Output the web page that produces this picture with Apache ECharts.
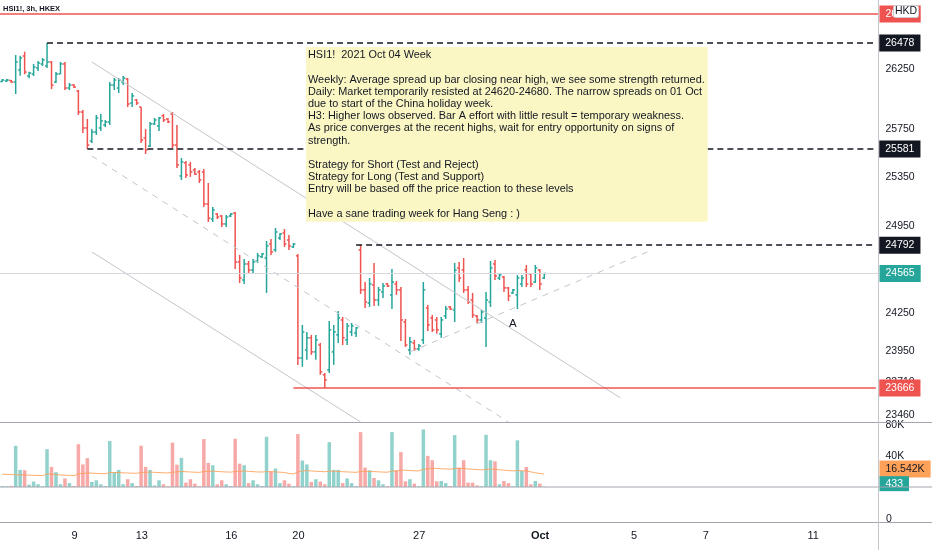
<!DOCTYPE html>
<html>
<head>
<meta charset="utf-8">
<title>HSI1! 3h</title>
<script src="https://cdn.jsdelivr.net/npm/echarts@6/dist/echarts.min.js"></script>
<style>
html,body{margin:0;padding:0;background:#fff;}
#chart{width:932px;height:550px;}
</style>
</head>
<body>
<div id="chart"></div>
<script>
// HSI1! 3h bars (bar index = position on the time axis)
var barOpen = [
  26148,26153,26157,26144,26247,26366,26195,26212,26264,26298,
  26281,26315,26144,26212,26298,26093,26118,26068,25890,25756,
  25647,25722,25756,25781,25806,26118,26093,26144,26170,25966,
  25992,25932,25672,25605,25790,25773,25857,25831,25873,25613,
  25357,25465,25448,25406,25390,25390,25127,25004,25045,25029,
  24964,25029,25053,24657,24513,24641,24593,24665,24698,24689,
  24802,24754,24850,24891,24834,24778,24706,23899,23961,24056,
  23946,24000,23768,23806,23946,24079,24196,24040,24102,24094,
  24754,24434,24330,24473,24354,24418,24481,24394,24481,24434,
  24180,23961,24016,23969,24040,24291,24212,24196,24087,24228,
  24299,24275,24609,24593,24434,24354,24228,24196,24212,24338,
  24641,24529,24537,24450,24410,24394,24481,24593,24561,24497,
  24593,24529
];
var barHigh = [
  26170,26170,26161,26375,26369,26403,26232,26298,26323,26349,
  26478,26323,26229,26315,26315,26136,26127,26076,25907,25831,
  25747,25865,25873,25823,26144,26178,26178,26195,26178,26051,
  26000,25932,25747,25806,25840,25848,25873,25840,25890,25781,
  25506,25481,25473,25423,25406,25415,25299,25103,25053,25037,
  25037,25053,25062,24714,24681,24665,24681,24730,24730,24826,
  24842,24931,24891,24923,24875,24810,24722,24157,24102,24079,
  24079,24016,23783,24188,24157,24267,24220,24173,24173,24141,
  24792,24497,24529,24649,24457,24489,24489,24601,24505,24457,
  24204,24063,24040,24008,24497,24315,24236,24220,24220,24307,
  24307,24649,24657,24689,24465,24410,24236,24275,24418,24665,
  24673,24569,24545,24457,24442,24553,24553,24633,24569,24633,
  24601,24569
];
var barLow = [
  26144,26144,26136,26042,26198,26210,26175,26195,26238,26281,
  26264,26084,26136,26212,26076,26076,26093,25865,25714,25581,
  25630,25697,25731,25764,25781,26076,26051,26118,25932,25932,
  25949,25630,25539,25597,25781,25731,25806,25798,25588,25423,
  25324,25340,25349,25365,25299,25103,24980,24980,25004,24939,
  24939,25020,24601,24489,24481,24569,24569,24649,24689,24410,
  24714,24738,24834,24778,24754,24770,23845,23830,23884,23923,
  23884,23768,23666,23783,23845,24016,24000,24000,24071,24063,
  24402,24291,24299,24307,24307,24370,24457,24283,24394,24032,
  23985,23923,23954,23954,24008,24110,24102,24087,24056,24204,
  24275,24180,24497,24410,24322,24212,24173,24173,23985,24299,
  24513,24513,24418,24346,24402,24283,24457,24457,24457,24489,
  24434,24521
];
var barClose = [
  26161,26161,26144,26315,26349,26229,26221,26272,26306,26332,
  26315,26118,26212,26298,26093,26118,26101,25890,25756,25613,
  25722,25840,25815,25806,26118,26161,26161,26178,25958,26026,
  25966,25655,25572,25790,25823,25840,25823,25806,25613,25448,
  25473,25365,25390,25373,25324,25127,25012,25078,25020,24964,
  25020,25045,24657,24529,24641,24593,24657,24706,24722,24786,
  24738,24899,24883,24802,24786,24802,23899,24102,24056,23946,
  24040,23791,23729,24118,24102,24212,24056,24149,24149,24134,
  24434,24338,24481,24354,24434,24465,24465,24497,24434,24196,
  24000,24024,23969,23993,24434,24157,24118,24118,24196,24283,
  24283,24593,24529,24434,24338,24236,24196,24259,24354,24609,
  24545,24553,24450,24386,24434,24529,24529,24481,24481,24609,
  24481,24565
];
var volume = [
  1200,900,1500,
  52900,22000,21500,3000,7000,3500,1000,
  48600,25800,19000,3500,11000,5000,1200,
  55000,29000,37000,6500,8600,3500,1100,
  59000,19000,22000,3500,10000,5000,1300,
  53000,25800,22000,2000,8600,3500,900,
  57000,28700,37400,5600,10000,4300,1000,
  61500,31000,28000,3500,8600,3500,1200,
  62000,30000,28000,5000,8600,3500,1100,
  64500,20000,23700,5000,8600,4300,1000,
  68000,34000,29000,6500,10000,7000,3500,
  57600,22000,22000,5000,11000,5000,1200,
  70500,25000,21500,11600,8600,3500,1000,
  70500,21500,44800,7300,10000,4300,1100,
  74000,40000,34400,7300,7700,5000,1200,
  66700,25000,34400,5600,5600,2000,900,
  67000,34400,33000,3500,7700,5000,1000,
  60000,20600,25800,3500,7700,4300,433
];
var volumeMA = [
  16400,16200,16000,15800,15600,15400,15200,
  15000,14800,14600,16800,16600,16000,15500,
  15200,14900,14600,16800,17400,18200,17800,
  17500,17200,17000,18800,18400,18600,18200,
  18000,17800,17600,18600,18900,19200,18800,
  18500,18300,18100,19000,19400,20000,19600,
  19300,19000,18800,19800,20100,20400,20000,
  19600,19300,19100,19900,20200,20500,20100,
  19700,19400,19200,19800,19600,19400,19000,
  18600,17400,16800,19500,20600,21000,20600,
  20200,19900,19600,20400,20200,20000,19600,
  19400,19100,18800,20000,20200,20000,19700,
  19500,19200,19000,20600,20500,21800,21400,
  21100,20800,20600,22600,23400,24200,23800,
  23500,23200,22900,23800,23600,23800,23200,
  22800,22400,22000,22600,23000,22800,22100,
  21600,21100,20600,21200,20900,20500,19400,
  18300,17400,16542
];

// time axis: bar slots incl. the empty future part
var slotCount = 196;
var tickBars = [16, 31, 51, 66, 93, 120, 141, 157, 181];
var tickLabels = ['9', '13', '16', '20', '27', 'Oct', '5', '7', '11'];

// price scale labels and drawn levels
var priceTicks = [26250, 25750, 25350, 24950, 24250, 23950, 23710, 23460];
var levelStart = [10, 19, 79];
var levelPrice = [26478, 25581, 24792];
var supportStart = 65, supportPrice = 23666;
var alertPrice = 26729;
var lastPrice = 24565;
var volTicks = [80000, 40000];
var volTickLabels = ['80K', '40K'];
var lastVolMA = 16542, lastVol = 433;

// channel / trend lines: [[bar, price], [bar, price]]
var trendLines = [
  [[20, 26315], [138, 23590]],
  [[20, 24738], [80, 23406]],
  [[20, 25522], [113, 23406]],
  [[91, 23946], [144, 24738]]
];
var trendDashed = [false, false, true, true];
var markA = [114, 24165];

var UP = '#26a69a', DOWN = '#ef5350';
var FONT = 'Liberation Sans';
var NONE = 'rgba(0,0,0,0)';
var PRICE_MIN = 23406, PRICE_MAX = 26851;

var cats = [];
for (var i = 0; i < slotCount; i++) cats.push(String(i));
var labelAt = {};
tickBars.forEach(function (b, k) { labelAt[b] = tickLabels[k]; });

var ohlc = barOpen.map(function (o, i) { return [i, o, barHigh[i], barLow[i], barClose[i]]; });
var volData = volume.map(function (v, i) {
  return {value: v, itemStyle: {color: barClose[i] >= barOpen[i] ? 'rgba(38,166,154,0.5)' : 'rgba(239,83,80,0.5)'}};
});

function renderOHLC(params, api) {
  var x = api.value(0);
  var o = api.coord([x, api.value(1)]);
  var h = api.coord([x, api.value(2)]);
  var l = api.coord([x, api.value(3)]);
  var c = api.coord([x, api.value(4)]);
  var half = api.size([1, 0])[0] * 0.45;
  var col = api.value(4) >= api.value(1) ? UP : DOWN;
  var st = {stroke: col, lineWidth: 1.5};
  return {type: 'group', children: [
    {type: 'line', shape: {x1: h[0], y1: h[1], x2: l[0], y2: l[1]}, style: st},
    {type: 'line', shape: {x1: o[0] - half, y1: o[1], x2: o[0], y2: o[1]}, style: st},
    {type: 'line', shape: {x1: c[0], y1: c[1], x2: c[0] + half, y2: c[1]}, style: st}
  ]};
}

function boxLabel(bg, fg, dist) {
  return {show: true, position: 'end', distance: dist, formatter: '{b}', color: fg, backgroundColor: bg,
    padding: [3, 6, 3, 6], fontSize: 10.5, fontFamily: FONT, opacity: 1};
}
function plainLabel(dist) {
  return {show: true, position: 'end', distance: dist, formatter: '{b}', color: '#131722',
    padding: [3, 6, 3, 6], fontSize: 10.5, fontFamily: FONT, opacity: 1};
}
var hiddenLine = {color: NONE, width: 1, type: 'solid', opacity: 1};

var priceMarks = [];
priceTicks.forEach(function (v) {
  priceMarks.push({yAxis: v, name: String(v), lineStyle: hiddenLine, label: plainLabel(1.5)});
});
trendLines.forEach(function (t, k) {
  priceMarks.push([
    {coord: t[0], lineStyle: {color: '#c3c5ca', width: 1, type: trendDashed[k] ? [6, 6] : 'solid'}, label: {show: false}},
    {coord: t[1]}
  ]);
});
priceMarks.push({yAxis: lastPrice, name: String(lastPrice), lineStyle: {color: '#d6d8dd', width: 1, type: 'solid'}, label: boxLabel(UP, '#fff', 1.5)});
priceMarks.push({yAxis: alertPrice, name: String(alertPrice), lineStyle: {color: DOWN, width: 1.5, type: 'solid'}, label: boxLabel(DOWN, '#fff', 1.5)});
levelPrice.forEach(function (p, k) {
  priceMarks.push([
    {coord: [levelStart[k], p], name: String(p), lineStyle: {color: '#131722', width: 1.5, type: [6, 4]}, label: boxLabel('#131722', '#fff', 3.5)},
    {coord: [slotCount - 1, p]}
  ]);
});
priceMarks.push([
  {coord: [supportStart, supportPrice], name: String(supportPrice), lineStyle: {color: DOWN, width: 1.5, type: 'solid'}, label: boxLabel(DOWN, '#fff', 3.5)},
  {coord: [slotCount - 1, supportPrice]}
]);

var volMarks = [];
volTicks.forEach(function (v, k) {
  volMarks.push({yAxis: v, name: volTickLabels[k], lineStyle: hiddenLine, label: plainLabel(1.5)});
});
volMarks.push({yAxis: lastVolMA, name: (lastVolMA / 1000).toFixed(3) + 'K', lineStyle: hiddenLine,
  label: Object.assign(boxLabel('#ffa159', '#131722', 1.5), {offset: [0, -5]})});
volMarks.push({yAxis: lastVol, name: String(lastVol), lineStyle: hiddenLine,
  label: Object.assign(boxLabel(UP, '#fff', 1.5), {offset: [0, -3], padding: [2, 6, 2, 6]})});

var note = [
  'HSI1!  2021 Oct 04 Week',
  '',
  'Weekly: Average spread up bar closing near high, we see some strength returned.',
  'Daily: Market temporarily resisted at 24620-24680. The narrow spreads on 01 Oct',
  'due to start of the China holiday week.',
  'H3: Higher lows observed. Bar A effort with little result = temporary weakness.',
  'As price converges at the recent highs, wait for entry opportunity on signs of',
  'strength.',
  '',
  'Strategy for Short (Test and Reject)',
  'Strategy for Long (Test and Support)',
  'Entry will be based off the price reaction to these levels',
  '',
  'Have a sane trading week for Hang Seng : )'
].join('\n');

var chart = echarts.init(document.getElementById('chart'));
var hiddenX = {type: 'category', data: cats, boundaryGap: true, show: false};

chart.setOption({
  animation: false,
  backgroundColor: '#ffffff',
  textStyle: {fontFamily: FONT},
  title: [
    {text: 'HSI1!, 3h, HKEX', left: 3, top: 5, padding: 0,
      textStyle: {fontSize: 7.5, fontWeight: 'bold', color: '#131722', fontFamily: FONT}},
    {text: note, left: 306, top: 47, padding: [2, 3, 2, 2], backgroundColor: '#fbf7c4',
      textStyle: {fontSize: 10.9, lineHeight: 12.2, fontWeight: 'normal', color: '#131722', fontFamily: FONT}},
    {text: 'HKD', left: 893, top: 5, padding: [1, 2], backgroundColor: '#ffffff',
      borderColor: '#c9cbd1', borderWidth: 1, borderRadius: 2,
      textStyle: {fontSize: 10.5, fontWeight: 'normal', color: '#131722', fontFamily: FONT}}
  ],
  grid: [
    {left: 0, right: 54, top: 0, height: 422},
    {left: 0, right: 54, top: 422, height: 65},
    {left: 0, right: 54, top: 487, height: 35}
  ],
  xAxis: [
    Object.assign({gridIndex: 0}, hiddenX),
    Object.assign({gridIndex: 1}, hiddenX),
    {gridIndex: 2, type: 'category', data: cats, boundaryGap: true,
      axisLine: {show: false}, axisTick: {show: false},
      axisLabel: {interval: 0, margin: 8, color: '#131722', fontSize: 11, fontFamily: FONT,
        formatter: function (v, idx) {
          var t = labelAt[idx];
          if (!t) return '';
          return isNaN(Number(t)) ? '{m|' + t + '}' : t;
        },
        rich: {m: {fontWeight: 'bold', fontSize: 11, color: '#131722', fontFamily: FONT}}}}
  ],
  yAxis: [
    {gridIndex: 0, type: 'log', logBase: 10, min: PRICE_MIN, max: PRICE_MAX, position: 'right',
      axisLine: {show: false}, axisTick: {show: false}, axisLabel: {show: false}, splitLine: {show: false}},
    {gridIndex: 1, type: 'value', min: 0, max: 83500, position: 'right',
      axisLine: {show: false}, axisTick: {show: false}, axisLabel: {show: false}, splitLine: {show: false}},
    {gridIndex: 2, type: 'value', min: -1, max: 10, interval: 1, position: 'right',
      axisLine: {show: false}, axisTick: {show: false}, splitLine: {show: false},
      axisLabel: {margin: 8, color: '#131722', fontSize: 10.5, fontFamily: FONT,
        formatter: function (v) { return v === 0 ? '0' : ''; }}}
  ],
  graphic: [
    {type: 'line', z: 50, shape: {x1: 0, y1: 422.5, x2: 932, y2: 422.5}, style: {stroke: '#a3a6af', lineWidth: 1}},
    {type: 'line', z: 50, shape: {x1: 0, y1: 487, x2: 932, y2: 487}, style: {stroke: '#a3a6af', lineWidth: 1}},
    {type: 'line', z: 50, shape: {x1: 0, y1: 522.5, x2: 932, y2: 522.5}, style: {stroke: '#a3a6af', lineWidth: 1}},
    {type: 'line', z: 50, shape: {x1: 878.5, y1: 0, x2: 878.5, y2: 550}, style: {stroke: '#c4c6cc', lineWidth: 1}}
  ],
  series: [
    {
      name: 'HSI1!', type: 'custom', xAxisIndex: 0, yAxisIndex: 0,
      renderItem: renderOHLC, data: ohlc, encode: {x: 0, y: [1, 2, 3, 4]},
      markLine: {silent: true, animation: false, symbol: ['none', 'none'], data: priceMarks},
      markPoint: {silent: true, animation: false,
        data: [{coord: markA, symbol: 'circle', symbolSize: 1, itemStyle: {color: NONE},
          label: {show: true, position: 'inside', formatter: 'A', color: '#131722', fontSize: 11.5, fontFamily: FONT}}]}
    },
    {
      name: 'Volume', type: 'bar', xAxisIndex: 1, yAxisIndex: 1,
      data: volData, barWidth: '78%',
      markLine: {silent: true, animation: false, symbol: ['none', 'none'], data: volMarks}
    },
    {
      name: 'Volume MA', type: 'line', xAxisIndex: 1, yAxisIndex: 1,
      data: volumeMA, showSymbol: false, symbol: 'none',
      lineStyle: {color: '#ff9f55', width: 1, opacity: 0.85}
    }
  ]
});
</script>
</body>
</html>
